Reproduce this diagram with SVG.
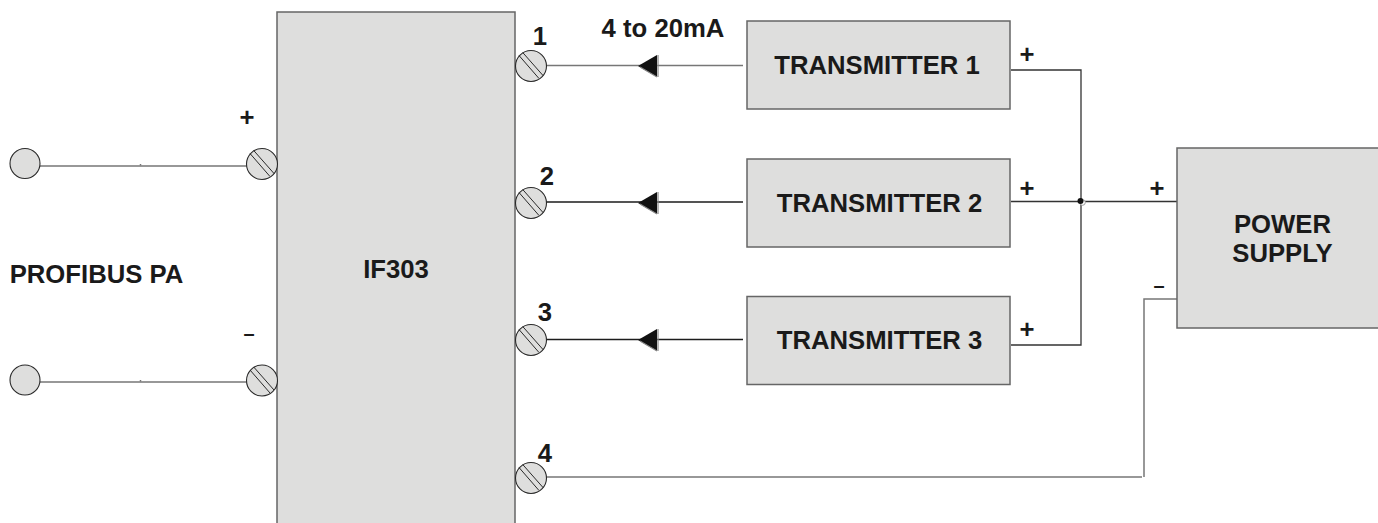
<svg xmlns="http://www.w3.org/2000/svg" width="1378" height="523" viewBox="0 0 1378 523">
<style>
.box{fill:#dededd;stroke:#666;stroke-width:1.5}
.w{fill:none;stroke:#333;stroke-width:1.3}
.d{fill:none;stroke:#1c1c1c;stroke-width:1.3}
.g{fill:none;stroke:#777;stroke-width:1.5}
.t{font-family:"Liberation Sans",Arial,sans-serif;font-weight:700;font-size:25.7px;fill:#1a1a1a;text-anchor:middle}
.m{font-size:20px}
.s{fill:#dededd;stroke:#2a2a2a;stroke-width:1.1}
.sl{stroke:#2a2a2a;stroke-width:1;fill:none}
.a{fill:#111}
.ab{fill:none;stroke:#888;stroke-width:1.2}
</style>
<defs>
<g id="screw"><circle class="s" r="15.500"/><path class="sl" d="M-12-10.500 8 12.500M-8.300-13.500 12 9.500"/></g>
</defs>
<g id="connectors">
<path class="g" d="M40 166H247M40 382H247"/>
<path class="g" d="M140.500 164v1.500M140.500 380v1.500"/>
<path class="g" d="M546 65.500H743"/>
<path class="d" d="M546 202H743M546 339.500H743"/>
<path class="w" d="M1011 70H1081V345H1011M1011 201.500H1177"/>
<path class="g" d="M546 477H1142M1144 477V299H1177"/>
<circle cx="1082.500" cy="202.500" r="2.800" fill="#fff" stroke="#999" stroke-width="1"/>
<circle cx="1080.500" cy="201" r="3" fill="#111"/>
<polygon class="a" points="638,66 657,55 657,77"/>
<polygon class="a" points="638,203 657,192 657,214"/>
<polygon class="a" points="638,340 657,329 657,351"/>
<path class="ab" d="M658 55V77M658 192V214M658 329V351M640 67L657 77M640 204L657 214M640 341L657 351"/>
</g>
<g id="if303"><rect class="box" x="277" y="12" width="238" height="520"/><text class="t" x="396" y="278">IF303</text></g>
<g id="transmitter1"><rect class="box" x="747" y="21" width="263" height="88"/><text class="t" x="877" y="74">TRANSMITTER 1</text></g>
<g id="transmitter2"><rect class="box" x="747" y="159" width="263" height="88"/><text class="t" x="879.500" y="211.500">TRANSMITTER 2</text></g>
<g id="transmitter3"><rect class="box" x="747" y="296.500" width="263" height="88"/><text class="t" x="879.500" y="349">TRANSMITTER 3</text></g>
<g id="power-supply"><rect class="box" x="1177" y="148" width="210" height="180"/><text class="t" x="1282.500" y="233">POWER</text><text class="t" x="1282.500" y="262">SUPPLY</text></g>
<g id="terminal-left-top"><circle class="s" cx="25" cy="163.500" r="15"/></g>
<g id="terminal-left-bottom"><circle class="s" cx="25" cy="380" r="15"/></g>
<g id="screw-plus"><use href="#screw" x="262" y="164"/></g>
<g id="screw-minus"><use href="#screw" x="262" y="380.500"/></g>
<g id="screw-1"><use href="#screw" x="531" y="66"/></g>
<g id="screw-2"><use href="#screw" x="531" y="203"/></g>
<g id="screw-3"><use href="#screw" x="531" y="340"/></g>
<g id="screw-4"><use href="#screw" x="531" y="478"/></g>
<g id="labels">
<text class="t" x="540" y="45">1</text>
<text class="t" x="547" y="185">2</text>
<text class="t" x="545" y="320.500">3</text>
<text class="t" x="545" y="462">4</text>
<text class="t" x="663" y="37">4 to 20mA</text>
<text class="t" x="96.500" y="283">PROFIBUS PA</text>
<text class="t" x="247" y="126">+</text>
<text class="t m" x="249" y="340">–</text>
<text class="t" x="1027" y="63">+</text>
<text class="t" x="1027" y="197">+</text>
<text class="t" x="1027" y="338">+</text>
<text class="t" x="1157" y="197">+</text>
<text class="t m" x="1159" y="292">–</text>
</g>
</svg>
